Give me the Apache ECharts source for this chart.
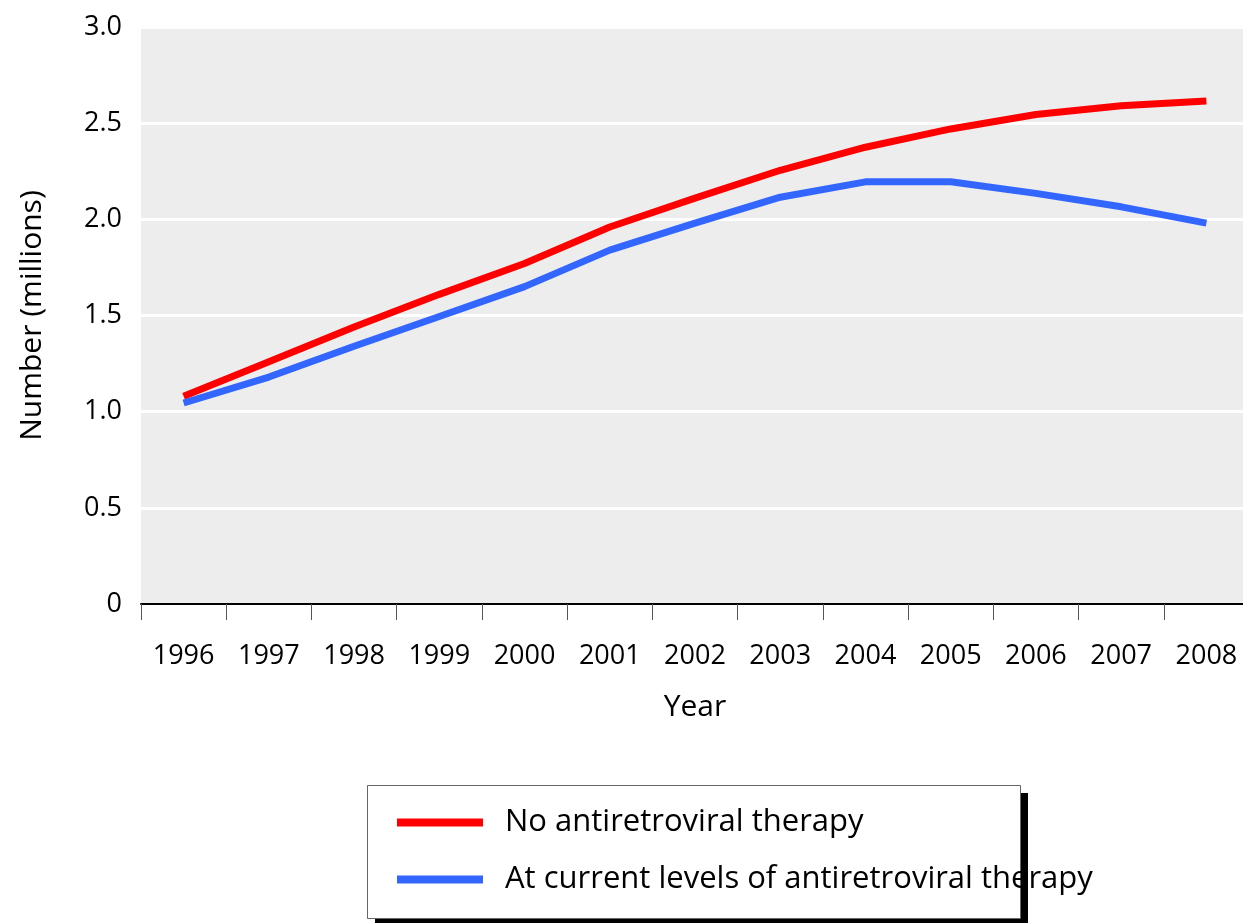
<!DOCTYPE html>
<html>
<head>
<meta charset="utf-8">
<script src="https://cdn.jsdelivr.net/npm/echarts@6/dist/echarts.min.js"></script>
<style>
  html, body { margin: 0; padding: 0; background: #fff; }
  #chart { width: 1243px; height: 923px; }
</style>
</head>
<body>
<div id="chart"></div>
<script>
const years = ['1996', '1997', '1998', '1999', '2000', '2001', '2002', '2003', '2004', '2005', '2006', '2007', '2008'];
const noTherapy = [1.08, 1.26, 1.44, 1.61, 1.77, 1.96, 2.11, 2.255, 2.375, 2.47, 2.545, 2.59, 2.615];
const currentTherapy = [1.045, 1.18, 1.34, 1.495, 1.65, 1.84, 1.98, 2.115, 2.195, 2.195, 2.135, 2.065, 1.98];
const yTicks = [0, 0.5, 1.0, 1.5, 2.0, 2.5, 3.0];

const font = '"Open Sans", "Noto Sans", sans-serif';

const myChart = echarts.init(document.getElementById('chart'));

const option = {
    backgroundColor: '#ffffff',
    animation: false,
    textStyle: { fontFamily: font },
    grid: {
        left: 141,
        width: 1108,
        top: 27,
        height: 577,
        outerBoundsMode: 'none',
        containLabel: false,
        show: true,
        backgroundColor: '#ededed',
        borderWidth: 0
    },
    graphic: [
        {
            type: 'rect',
            z: 0,
            shape: { x: 375, y: 793, width: 653, height: 133 },
            style: { fill: '#000' }
        },
        {
            type: 'rect',
            z: 1,
            shape: { x: 367.5, y: 785.5, width: 653, height: 133 },
            style: { fill: '#fff', stroke: '#666', lineWidth: 1 }
        }
    ],
    legend: {
        z: 10,
        orient: 'vertical',
        left: 397,
        top: 807,
        padding: 0,
        icon: 'rect',
        itemWidth: 86,
        itemHeight: 8,
        itemGap: 26,
        textStyle: {
            fontFamily: font,
            fontSize: 31,
            lineHeight: 31,
            color: '#000',
            padding: [0, 0, 0, 17]
        },
        data: ['No antiretroviral therapy', 'At current levels of antiretroviral therapy']
    },
    xAxis: {
        type: 'category',
        data: years,
        boundaryGap: true,
        name: 'Year',
        nameLocation: 'middle',
        nameGap: 88,
        nameTextStyle: { fontFamily: font, fontSize: 30, color: '#000' },
        axisLine: { lineStyle: { color: '#000', width: 2 } },
        axisTick: { show: true, length: 16, lineStyle: { color: '#555', width: 1 } },
        axisLabel: { fontFamily: font, fontSize: 27, color: '#000', margin: 39, interval: 0 },
        splitLine: { show: false }
    },
    yAxis: {
        type: 'value',
        min: 0,
        max: 3,
        interval: 0.5,
        name: 'Number (millions)',
        nameLocation: 'middle',
        nameGap: 94,
        nameTextStyle: { fontFamily: font, fontSize: 30, color: '#000' },
        axisLine: { show: false },
        axisTick: { show: false },
        axisLabel: {
            fontFamily: font,
            fontSize: 27,
            color: '#000',
            margin: 19,
            padding: [0, 0, 8, 0],
            formatter: function (v) {
                const t = yTicks.find(x => Math.abs(x - v) < 1e-9);
                return t === 0 ? '0' : t.toFixed(1);
            }
        },
        splitLine: { show: true, lineStyle: { color: '#ffffff', width: 3 } }
    },
    series: [
        {
            name: 'No antiretroviral therapy',
            type: 'line',
            data: noTherapy,
            symbol: 'none',
            color: '#ff0000',
            lineStyle: { width: 7, color: '#ff0000' }
        },
        {
            name: 'At current levels of antiretroviral therapy',
            type: 'line',
            data: currentTherapy,
            symbol: 'none',
            color: '#3366ff',
            lineStyle: { width: 7, color: '#3366ff' }
        }
    ]
};

myChart.setOption(option);
</script>
</body>
</html>
